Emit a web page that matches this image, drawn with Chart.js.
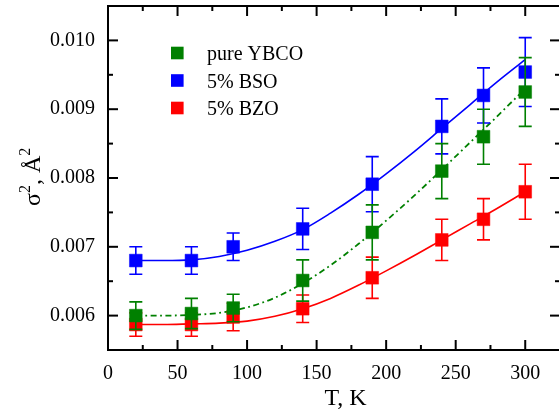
<!DOCTYPE html>
<html>
<head>
<meta charset="utf-8">
<script src="https://cdn.jsdelivr.net/npm/chart.js@4/dist/chart.umd.min.js"></script>
<style>
html,body{margin:0;padding:0;background:#fff;overflow:hidden;}
#wrap{width:562px;height:411px;}
</style>
</head>
<body>
<div id="wrap"><canvas id="c" width="562" height="411"></canvas></div>
<script>
// ---- data ----
const temps = [20, 60, 90, 140, 190, 240, 270, 300];
const ybco = [0.00600, 0.00603, 0.00611, 0.00651, 0.00721, 0.00810, 0.00860, 0.00925];
const ybcoErr = [0.00020, 0.00022, 0.00020, 0.00030, 0.00040, 0.00040, 0.00040, 0.00050];
const bso = [0.00680, 0.00680, 0.00700, 0.00726, 0.00791, 0.00875, 0.00920, 0.00954];
const bsoErr = [0.00020, 0.00020, 0.00020, 0.00030, 0.00040, 0.00040, 0.00040, 0.00050];
const bzo = [0.00587, 0.00587, 0.00598, 0.00610, 0.00655, 0.00710, 0.00740, 0.00780];
const bzoErr = [0.00017, 0.00017, 0.00020, 0.00020, 0.00030, 0.00030, 0.00030, 0.00040];

const fitT = [20, 40, 60, 80, 100, 120, 140, 160, 180, 200, 220, 240, 260, 280, 300];
const ybcoFit = [0.00600, 0.00600, 0.00601, 0.00604, 0.00612, 0.00626, 0.00647, 0.00673, 0.00704, 0.00738, 0.00774, 0.00812, 0.00851, 0.00890, 0.00930];
const bsoFit = [0.00680, 0.00680, 0.00681, 0.00686, 0.00695, 0.00708, 0.00725, 0.00749, 0.00776, 0.00806, 0.00838, 0.00872, 0.00906, 0.00940, 0.00972];
const bzoFit = [0.00587, 0.00587, 0.00588, 0.00589, 0.00592, 0.00599, 0.00610, 0.00625, 0.00644, 0.00665, 0.00687, 0.00710, 0.00733, 0.00756, 0.00780];

const seriesNames = ['pure YBCO', '5% BSO', '5% BZO'];
const seriesColors = ['#008000', '#0000ff', '#ff0000'];

const xTicks = [0, 50, 100, 150, 200, 250, 300];
const xMinorTicks = [25, 75, 125, 175, 225, 275];
const yTicks = [0.006, 0.007, 0.008, 0.009, 0.010];
const yMinorTicks = [0.0065, 0.0075, 0.0085, 0.0095];
const xTitle = 'T, K';

// ---- helpers ----
const pts = (xs, ys) => xs.map((x, i) => ({x: x, y: ys[i]}));
const SERIF = '"Liberation Serif", "Times New Roman", serif';

const errorPlugin = {
  id: 'errbars',
  beforeDatasetDraw(chart, args) {
    const ds = chart.data.datasets[args.index];
    if (!ds.errors) return;
    const {ctx} = chart, xs = chart.scales.x, ys = chart.scales.y;
    ctx.save();
    ctx.strokeStyle = ds.backgroundColor;
    ctx.lineWidth = 1.6;
    ds.data.forEach((p, i) => {
      const e = ds.errors[i];
      const px = xs.getPixelForValue(p.x);
      const pt = ys.getPixelForValue(p.y + e);
      const pb = ys.getPixelForValue(p.y - e);
      const w = 6.5;
      ctx.beginPath();
      ctx.moveTo(px, pt); ctx.lineTo(px, pb);
      ctx.moveTo(px - w, pt); ctx.lineTo(px + w, pt);
      ctx.moveTo(px - w, pb); ctx.lineTo(px + w, pb);
      ctx.stroke();
    });
    ctx.restore();
  }
};

const framePlugin = {
  id: 'frame',
  afterDraw(chart) {
    const {ctx, chartArea: a} = chart, xs = chart.scales.x, ys = chart.scales.y;
    ctx.save();
    ctx.strokeStyle = '#000';
    ctx.lineWidth = 2;
    ctx.strokeRect(a.left, a.top, a.right - a.left, a.bottom - a.top);
    const tick = (x1, y1, x2, y2) => { ctx.beginPath(); ctx.moveTo(x1, y1); ctx.lineTo(x2, y2); ctx.stroke(); };
    const xt = (v, len) => { const p = xs.getPixelForValue(v); tick(p, a.bottom, p, a.bottom - len); tick(p, a.top, p, a.top + len); };
    const yt = (v, len) => { const p = ys.getPixelForValue(v); tick(a.left, p, a.left + len, p); tick(a.right, p, a.right - len, p); };
    xTicks.forEach(v => xt(v, 10));
    xMinorTicks.forEach(v => xt(v, 5));
    yTicks.forEach(v => yt(v, 10));
    yMinorTicks.forEach(v => yt(v, 5));

    // legend
    ctx.font = '20px ' + SERIF;
    ctx.textBaseline = 'alphabetic';
    ctx.textAlign = 'left';
    seriesNames.forEach((n, i) => {
      const cy = 53 + i * 27.5;
      ctx.fillStyle = seriesColors[i];
      ctx.fillRect(171, cy - 6.3, 12.6, 12.6);
      ctx.fillStyle = '#000';
      ctx.fillText(n, 207, cy + 7);
    });

    // x title
    ctx.font = '24px ' + SERIF;
    ctx.textAlign = 'center';
    ctx.fillText(xTitle, 345.5, 405);

    // y title (rotated) sigma^2, A^2
    ctx.translate(40, 206);
    ctx.rotate(-Math.PI / 2);
    ctx.textAlign = 'left';
    let cx = 0;
    const big = '24px ' + SERIF, small = '16px ' + SERIF;
    const part = (t, f, dy) => { ctx.font = f; ctx.fillText(t, cx, dy); cx += ctx.measureText(t).width; };
    part('σ', big, 0);
    part('2', small, -10);
    part(', Å', big, 0);
    part('2', small, -10);
    ctx.restore();
  }
};

const ds = [];
// markers (lower order drawn on top)
ds.push({type: 'scatter', label: seriesNames[0], data: pts(temps, ybco), errors: ybcoErr,
  backgroundColor: seriesColors[0], borderColor: seriesColors[0], borderWidth: 0.5,
  pointStyle: 'rect', pointRadius: 9, order: 1});
ds.push({type: 'scatter', label: seriesNames[1], data: pts(temps, bso), errors: bsoErr,
  backgroundColor: seriesColors[1], borderColor: seriesColors[1], borderWidth: 0.5,
  pointStyle: 'rect', pointRadius: 9, order: 2});
ds.push({type: 'scatter', label: seriesNames[2], data: pts(temps, bzo), errors: bzoErr,
  backgroundColor: seriesColors[2], borderColor: seriesColors[2], borderWidth: 0.5,
  pointStyle: 'rect', pointRadius: 9, order: 3});
// fit curves
ds.push({type: 'line', data: pts(fitT, ybcoFit), borderColor: seriesColors[0], borderWidth: 1.8,
  borderDash: [6, 3.5, 1.8, 3.5], pointRadius: 0, cubicInterpolationMode: 'monotone', fill: false, order: 4});
ds.push({type: 'line', data: pts(fitT, bsoFit), borderColor: seriesColors[1], borderWidth: 1.6,
  pointRadius: 0, cubicInterpolationMode: 'monotone', fill: false, order: 5});
ds.push({type: 'line', data: pts(fitT, bzoFit), borderColor: seriesColors[2], borderWidth: 1.6,
  pointRadius: 0, cubicInterpolationMode: 'monotone', fill: false, order: 6});

new Chart(document.getElementById('c'), {
  data: {datasets: ds},
  options: {
    responsive: false,
    devicePixelRatio: 1,
    animation: false,
    layout: {autoPadding: false, padding: {left: 0, right: 2, top: 6, bottom: 0}},
    plugins: {legend: {display: false}, tooltip: {enabled: false}},
    scales: {
      x: {
        type: 'linear', min: 0, max: 325,
        grid: {display: false, drawTicks: false},
        border: {display: false},
        afterBuildTicks: s => { s.ticks = xTicks.map(v => ({value: v})); },
        afterFit: s => { s.height = 61; s.paddingLeft = 0; s.paddingRight = 0; },
        ticks: {color: '#000', font: {family: SERIF, size: 20}, padding: 12, maxRotation: 0,
          callback: v => String(v)}
      },
      y: {
        type: 'linear', min: 0.0055, max: 0.0105,
        grid: {display: false, drawTicks: false},
        border: {display: false},
        afterBuildTicks: s => { s.ticks = yTicks.map(v => ({value: v})); },
        afterFit: s => { s.width = 108; s.paddingTop = 0; s.paddingBottom = 0; },
        ticks: {color: '#000', font: {family: SERIF, size: 20}, padding: 13,
          callback: v => Number(v).toFixed(3)}
      }
    }
  },
  plugins: [errorPlugin, framePlugin]
});
</script>
</body>
</html>
